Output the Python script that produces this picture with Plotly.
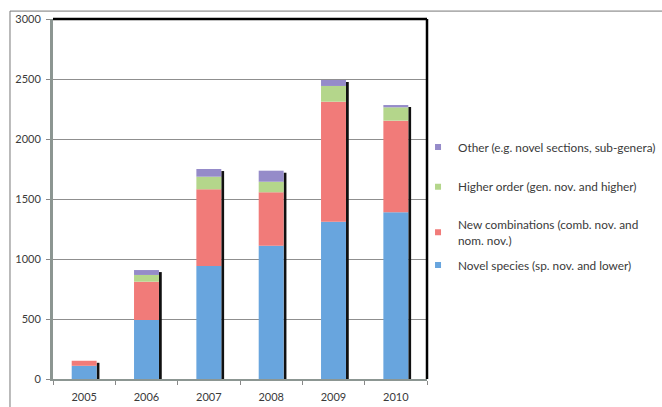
import numpy as np
import plotly.graph_objects as go

# Number of new fungal names per year, split by type
years = ["2005", "2006", "2007", "2008", "2009", "2010"]
novel_species = [110, 492, 942, 1111, 1311, 1389]
new_combinations = [42, 319, 639, 445, 1000, 764]
higher_order = [0, 56, 105, 88, 131, 111]
other = [0, 41, 64, 92, 50, 19]

series = [
    ("Novel species (sp. nov. and lower)", novel_species, "#68a5de"),
    ("New combinations (comb. nov. and<br>nom. nov.)", new_combinations, "#f17b79"),
    ("Higher order (gen. nov. and higher)", higher_order, "#b4d68b"),
    ("Other (e.g. novel sections, sub-genera)", other, "#958bc9"),
]

# vertical position (paper units) of each legend entry, bottom to top
legend_tops = [0.357, 0.468, 0.574, 0.685]

stack = np.array([s[1] for s in series], dtype=float)
bases = np.vstack([np.zeros(len(years)), np.cumsum(stack, axis=0)[:-1]])
totals = stack.sum(axis=0)

BAR_W = 0.4
SHADOW_DROP = 17  # drop-shadow offset in value units

fig = go.Figure()

# thin dark drop shadow along the right edge of each column
fig.add_trace(go.Bar(
    x=years, y=totals - SHADOW_DROP, width=0.045, offset=BAR_W / 2,
    marker=dict(color="#111111", line=dict(width=0)),
    showlegend=False, hoverinfo="skip",
))

legend_font = dict(family="Lato, 'Open Sans', sans-serif", size=11.8, color="#3a3a3a")
legend_layout = {}

for i, (name, vals, color) in enumerate(series):
    fig.add_trace(go.Bar(
        x=years, y=vals, base=bases[i], name=name,
        width=BAR_W, offset=-BAR_W / 2,
        marker=dict(color=color, line=dict(width=0)),
        showlegend=False,
    ))
    # small square legend key, each entry in its own legend box
    lg = "legend" if i == 0 else f"legend{i + 1}"
    fig.add_trace(go.Scatter(
        x=[None], y=[None], mode="markers", name=name,
        marker=dict(symbol="square", size=6, color=color),
        legend=lg,
    ))
    legend_layout[lg] = dict(
        x=0.976, y=legend_tops[i], xanchor="left", yanchor="top",
        font=legend_font, itemwidth=30, bgcolor="rgba(0,0,0,0)",
    )

font = dict(family="Lato, 'Open Sans', sans-serif", size=11, color="#3a3a3a")

fig.update_layout(
    barmode="overlay",
    width=662, height=407,
    margin=dict(l=53, r=235, t=19, b=28, autoexpand=False),
    paper_bgcolor="white", plot_bgcolor="white",
    font=font,
    xaxis=dict(
        type="category", showgrid=False, tickson="boundaries",
        ticks="outside", ticklen=4, tickcolor="#888888",
        showline=True, linecolor="#8c9692", linewidth=2,
        tickfont=font, range=[-0.5, 5.5], ticklabelstandoff=7,
        automargin=False,
    ),
    yaxis=dict(
        range=[0, 3000], dtick=500, showgrid=True,
        gridcolor="#8f8f8f", gridwidth=1,
        ticks="outside", ticklen=4, tickcolor="#888888",
        showline=True, linecolor="#8c9692", linewidth=3,
        zeroline=False, tickfont=font, ticklabelstandoff=3,
        automargin=False,
    ),
    shapes=[
        # black top and right borders of the plot box
        dict(type="line", xref="paper", yref="paper", x0=0, x1=1, y0=1, y1=1,
             line=dict(color="black", width=2.5)),
        dict(type="line", xref="paper", yref="paper", x0=1, x1=1, y0=0, y1=1,
             line=dict(color="black", width=2.5)),
        # outer chart frame
        dict(type="rect", xref="paper", yref="paper", x0=-0.115, x1=1.9,
             y0=-0.3, y1=1.022, line=dict(color="#777777", width=1), layer="below"),
    ],
    **legend_layout,
)

fig.write_html("out.html")
